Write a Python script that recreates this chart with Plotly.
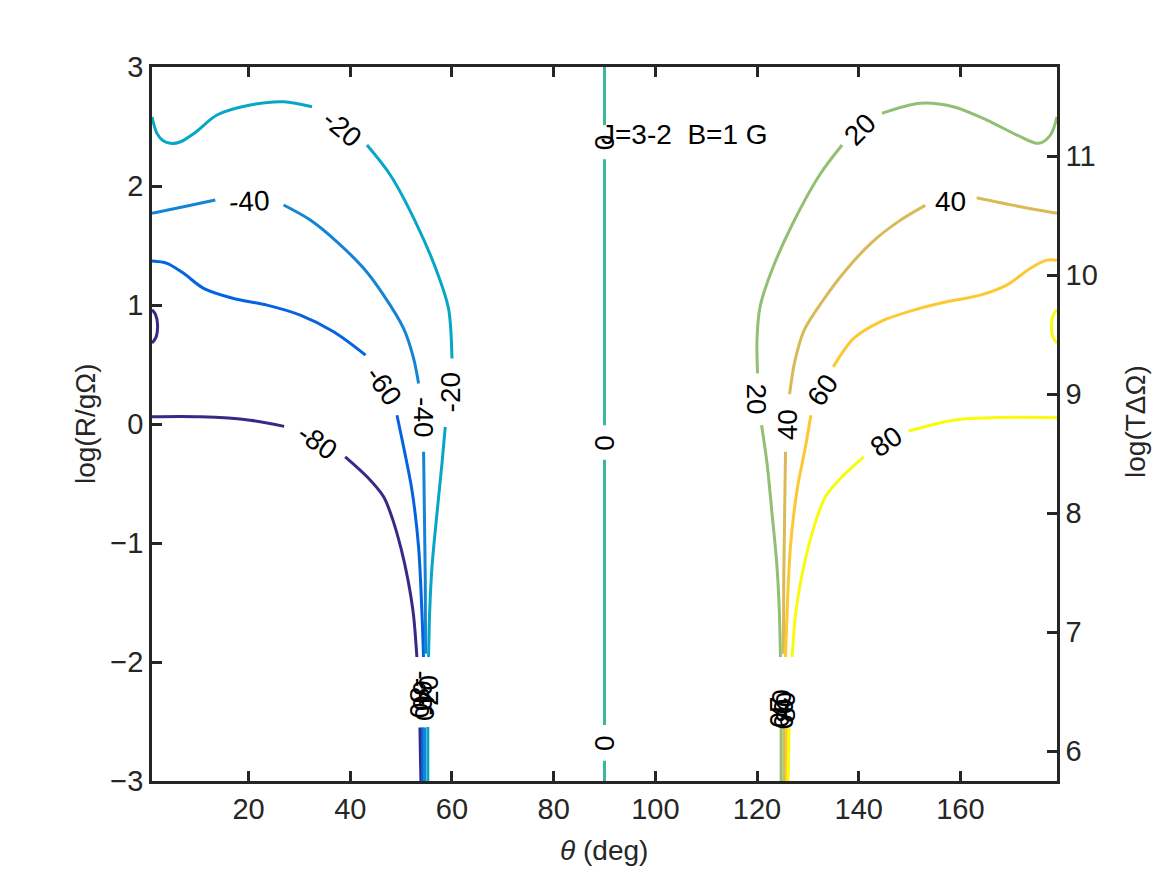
import plotly.graph_objects as go

# contour lines (theta in deg, log(R/gOmega)); None = gap for an inline label
M80_TH = [1, 10.5, 20.3, 27.0, None, 39.0, 43.3, 46.55, 48.4, 50.0, 51.3, 52.4, 53.1, None, 53.7, 53.8, 53.9]
M80_Y = [0.06, 0.06, 0.032, -0.02, None, -0.276, -0.444, -0.612, -0.81, -1.05, -1.3, -1.593, -1.958, None,
         -2.55, -2.8, -3.0]
M80_BLOB_TH = [1, 1.7, 2.1, 1.8, 1]
M80_BLOB_Y = [0.96, 0.92, 0.83, 0.73, 0.68]

M60_TH = [1, 3.95, 7.22, 11.15, 17.05, 23.6, 30.17, 36.72, 43.0, None,
          49.18, 50.48, 52.13, 53.43, 54.1, 54.4, None, 54.2, 54.2]
M60_Y = [1.369, 1.35, 1.266, 1.14, 1.055, 0.999, 0.915, 0.775, 0.579, None,
         0.074, -0.192, -0.556, -1.033, -1.593, -1.958, None, -2.55, -3.0]

M40_TH = [1, 7.22, 13.45, None, 26.88, 32.13, 37.38, 42.62, 46.55, 50.48, 52.45, 53.43, None,
          54.42, 54.75, 54.8, None, 54.6, 54.6]
M40_Y = [1.77, 1.826, 1.882, None, 1.84, 1.714, 1.531, 1.308, 1.083, 0.803, 0.551, 0.341, None,
         -0.234, -1.313, -1.93, None, -2.55, -3.0]

M20_TH = [1, 2.0, 3.2, 4.6, 6.5, 9.5, 13.79, 20.33, 26.88, 32.47, None,
          43.28, 47.87, 53.12, 57.05, 59.32, 60.0, None,
          58.68, 58.03, 57.05, 56.07, 55.6, 55.4, None, 55.25, 55.25]
M20_Y = [2.58, 2.44, 2.38, 2.359, 2.37, 2.45, 2.597, 2.681, 2.708, 2.666, None,
         2.344, 2.092, 1.672, 1.279, 0.971, 0.551, None,
         -0.024, -0.332, -0.752, -1.2, -1.593, -1.958, None, -2.546, -3.0]

Z0_TH = [90, 90, None, 90, 90, None, 90, 90, None, 90, 90]
Z0_Y = [-3.0, -2.83, None, -2.53, -0.30, None, -0.01, 2.224, None, 2.512, 3.0]

P20_TH = [179, 177.7, 175.4, 171.8, 165.2, 158.6, 152.1, 144.6, None,
          136.72, 132.3, 126.88, 122.8, 120.6, 120.0, 120.1, None,
          120.9, 121.97, 122.95, 123.93, 124.4, 124.6, None, 124.75, 124.75]
P20_Y = [2.58, 2.428, 2.359, 2.414, 2.554, 2.666, 2.695, 2.611, None,
         2.344, 2.092, 1.672, 1.279, 0.985, 0.719, 0.425, None,
         -0.01, -0.332, -0.752, -1.2, -1.593, -1.958, None, -2.546, -3.0]

P40_TH = [179, 171.8, 163.2, None, 153.1, 148.0, 142.7, 137.5, 133.0, 129.3, 127.4, 126.4, None,
          125.6, 125.25, 125.2, None, 125.4, 125.4]
P40_Y = [1.77, 1.826, 1.901, None, 1.837, 1.707, 1.531, 1.294, 1.04, 0.79, 0.52, 0.25, None,
         -0.234, -1.313, -1.93, None, -2.55, -3.0]

P60_TH = [179, 177.0, 173.7, 169.1, 163.9, 157.3, 150.8, 144.2, 139.0, 135.0, None,
          130.6, 129.52, 127.87, 126.57, 125.9, 125.6, None, 125.8, 125.8]
P60_Y = [1.377, 1.377, 1.307, 1.167, 1.083, 1.027, 0.957, 0.859, 0.719, 0.48, None,
         0.074, -0.192, -0.556, -1.033, -1.593, -1.958, None, -2.55, -3.0]

P80_TH = [179, 168.5, 158.6, 149.8, None, 141.0, 136.7, 133.45, 131.6, 130.0, 128.7, 127.6, 126.9, None,
          126.3, 126.2, 126.1]
P80_Y = [0.052, 0.055, 0.032, -0.06, None, -0.276, -0.444, -0.612, -0.81, -1.05, -1.3, -1.593, -1.958, None,
         -2.55, -2.8, -3.0]
P80_BLOB_TH = [179, 178.3, 177.9, 178.2, 179]
P80_BLOB_Y = [0.96, 0.92, 0.83, 0.73, 0.68]

# inline contour labels
LABEL_TEXT = ["-20", "-40", "-60", "-80", "-20", "-40",
              "-80", "-60", "-40", "-20",
              "0", "0", "0",
              "20", "40", "60", "80", "20", "40",
              "80", "60", "40", "20"]
LABEL_TH = [38.4, 20.0, 46.55, 33.45, 59.67, 54.4,
            53.5, 54.1, 54.6, 55.3,
            90, 90, 90,
            140.3, 158.0, 132.8, 145.5, 119.9, 125.9,
            125.6, 125.2, 124.8, 124.4]
LABEL_Y = [2.484, 1.868, 0.327, -0.15, 0.268, 0.062,
           -2.3, -2.24, -2.32, -2.28,
           2.368, -0.158, -2.68,
           2.471, 1.868, 0.285, -0.15, 0.21, -0.01,
           -2.38, -2.44, -2.36, -2.42]
LABEL_ANGLE = [40, -3, 55, 35, -90, 90,
               90, 90, 90, -90,
               90, 90, 90,
               -45, 0, -55, -35, 90, -90,
               -90, -90, -90, 90]

X_TICKS = [20, 40, 60, 80, 100, 120, 140, 160]
Y_TICKS = [-3, -2, -1, 0, 1, 2, 3]
Y2_TICKS = [6, 7, 8, 9, 10, 11]

FONT = "Liberation Sans, Arial, sans-serif"
INK = "#262626"
FS = 29

fig = go.Figure()

lines = [
    (M80_TH, M80_Y, "#352a87"), (M80_BLOB_TH, M80_BLOB_Y, "#352a87"),
    (M60_TH, M60_Y, "#0363e1"),
    (M40_TH, M40_Y, "#1485d4"),
    (M20_TH, M20_Y, "#06a7c6"),
    (Z0_TH, Z0_Y, "#38b99e"),
    (P20_TH, P20_Y, "#92bf73"),
    (P40_TH, P40_Y, "#d9ba56"),
    (P60_TH, P60_Y, "#fcc932"),
    (P80_TH, P80_Y, "#f9fb0e"), (P80_BLOB_TH, P80_BLOB_Y, "#f9fb0e"),
]
for th, y, col in lines:
    fig.add_trace(go.Scatter(x=th, y=y, mode="lines",
                             line=dict(color=col, width=3, shape="spline", smoothing=0.9),
                             connectgaps=False, showlegend=False, hoverinfo="skip"))

# invisible trace so the right axis is drawn
fig.add_trace(go.Scatter(x=[None], y=[None], yaxis="y2", showlegend=False))

for txt, th, y, ang in zip(LABEL_TEXT, LABEL_TH, LABEL_Y, LABEL_ANGLE):
    fig.add_annotation(x=th, y=y, text=txt, textangle=ang, showarrow=False,
                       font=dict(family=FONT, size=FS - 1, color="black"))

fig.add_annotation(x=90, y=2.43, text="J=3-2  B=1 G", xanchor="left", xshift=-6, showarrow=False,
                   font=dict(family=FONT, size=FS - 1, color="black"))

# axis titles
fig.add_annotation(xref="paper", yref="paper", x=0.4994, y=-0.097, text="<i>θ</i> (deg)",
                   xanchor="center", yanchor="middle",
                   showarrow=False, font=dict(family=FONT, size=FS - 1, color=INK))
fig.add_annotation(xref="paper", yref="paper", x=-0.074, y=0.5, text="log(R/gΩ)", textangle=-90,
                   xanchor="center", yanchor="middle",
                   showarrow=False, font=dict(family=FONT, size=FS - 1, color=INK))
fig.add_annotation(xref="paper", yref="paper", x=1.086, y=0.504, text="log(TΔΩ)", textangle=-90,
                   xanchor="center", yanchor="middle",
                   showarrow=False, font=dict(family=FONT, size=FS - 1, color=INK))

axis_style = dict(showgrid=False, zeroline=False, showline=True, linecolor=INK, linewidth=2.5,
                  ticks="inside", ticklen=10, tickwidth=2.5, tickcolor=INK,
                  tickfont=dict(family=FONT, size=FS, color=INK))

fig.update_layout(
    width=1167, height=875,
    margin=dict(l=144, r=118, t=59, b=102),
    plot_bgcolor="white", paper_bgcolor="white",
    xaxis=dict(range=[1, 179], tickvals=X_TICKS, ticktext=[str(v) for v in X_TICKS],
               mirror="ticks", **axis_style),
    yaxis=dict(range=[-3, 3], tickvals=Y_TICKS,
               ticktext=[str(v).replace("-", "\u2212") for v in Y_TICKS], **axis_style),
    yaxis2=dict(range=[5.75, 11.75], overlaying="y", side="right", tickvals=Y2_TICKS,
                ticktext=[str(v) for v in Y2_TICKS], **axis_style),
)

fig.write_html("out.html")
